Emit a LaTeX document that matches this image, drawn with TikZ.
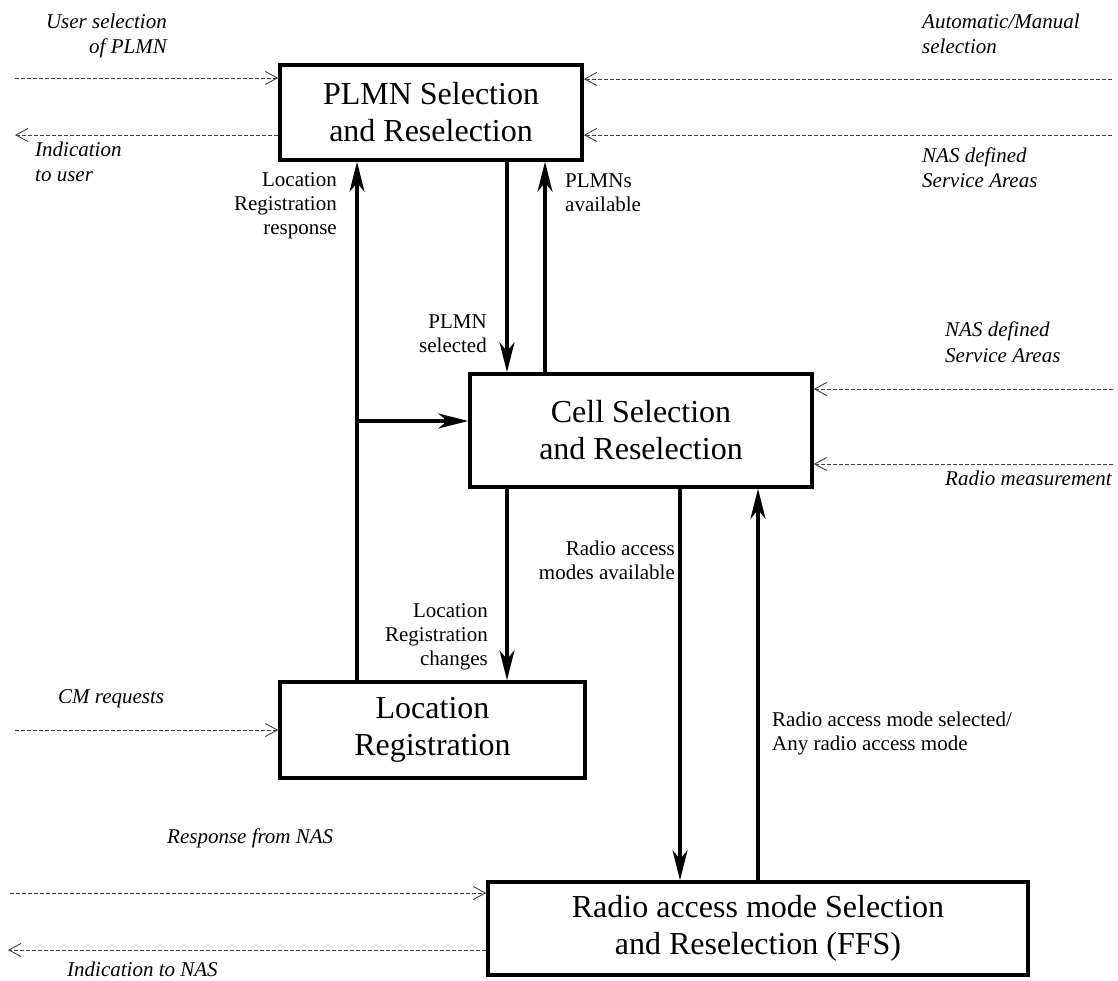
\documentclass[tikz,border=0pt]{standalone}
\usepackage{fontspec}
\setmainfont{Liberation Serif}
\usetikzlibrary{arrows.meta}
\begin{document}
\begin{tikzpicture}[x=1pt,y=-1pt,
  box/.style={draw, line width=3.5pt, inner sep=0pt, align=center, font=\fontsize{32}{37}\selectfont},
  arr/.style={line width=3.5pt, -{Stealth[length=30pt,width=15pt,inset=9pt]}},
  dsh/.style={line width=0.9pt, draw=black!75, dash pattern=on 4pt off 2pt, -{Straight Barb[length=12pt,width=13pt,line width=0.9pt]}},
  lab/.style={inner sep=0pt, font=\fontsize{21}{24}\selectfont},
  ilab/.style={inner sep=0pt, font=\fontsize{21}{25}\selectfont\itshape}]
\useasboundingbox (0,0) rectangle (1118,981);

% boxes
\node[box, minimum width=302pt, minimum height=95pt] (plmn) at (431,112.5) {PLMN Selection\\and Reselection};
\node[box, minimum width=342pt, minimum height=113pt] (cell) at (641,430.5) {Cell Selection\\and Reselection};
\node[box, minimum width=305pt, minimum height=96pt] (loc) at (432.5,730) {Location\\Registration};
\node[box, minimum width=540pt, minimum height=93pt] (radio) at (758,928.5) {Radio access mode Selection\\and Reselection (FFS)};

% x positions
\coordinate (xa) at (357,0);
\coordinate (xb) at (507,0);
\coordinate (xc) at (545,0);
\coordinate (xd) at (680,0);
\coordinate (xe) at (758,0);
\coordinate (junc) at (357,421);

% solid connectors
\draw[arr] (loc.north -| xa) -- (plmn.south -| xa);
\draw[arr] (junc) -- (cell.west |- junc);
\draw[arr] (plmn.south -| xb) -- (cell.north -| xb);
\draw[arr] (cell.north -| xc) -- (plmn.south -| xc);
\draw[arr] (cell.south -| xb) -- (loc.north -| xb);
\draw[arr] (cell.south -| xd) -- (radio.north -| xd);
\draw[arr] (radio.north -| xe) -- (cell.south -| xe);

% dashed external coordinates
\coordinate (l1) at (15,78);
\coordinate (l2) at (15,135);
\coordinate (r1) at (1112,79);
\coordinate (r2) at (1112,135);
\coordinate (r3) at (1113,389);
\coordinate (r4) at (1113,464);
\coordinate (l3) at (15,730);
\coordinate (l4) at (10,893);
\coordinate (l5) at (8,950);

\draw[dsh] (l1) -- (plmn.west |- l1);
\draw[dsh] (plmn.west |- l2) -- (l2);
\draw[dsh] (r1) -- (plmn.east |- r1);
\draw[dsh] (r2) -- (plmn.east |- r2);
\draw[dsh] (r3) -- (cell.east |- r3);
\draw[dsh] (r4) -- (cell.east |- r4);
\draw[dsh] (l3) -- (loc.west |- l3);
\draw[dsh] (l4) -- (radio.west |- l4);
\draw[dsh] (radio.west |- l5) -- (l5);

% italic labels (anchor at baseline of last line)
\node[ilab, anchor=base east, align=right] (t1) at (167,54) {User selection\\of PLMN};
\node[ilab, anchor=base west, align=left] (t2) at (35,182) {Indication\\to user};
\node[ilab, anchor=base west, align=left] (t3) at (922,54) {Automatic/Manual\\selection};
\node[ilab, anchor=base west, align=left] (t4) at (922,188) {NAS defined\\Service Areas};
\node[ilab, anchor=base west, align=left] (t5) at (945,362) {NAS defined\\Service Areas};
\node[ilab, anchor=base west] (t6) at (945,485) {Radio measurement};
\node[ilab, anchor=base west] (t7) at (58,703) {CM requests};
\node[ilab, anchor=base west] (t8) at (167,843) {Response from NAS};
\node[ilab, anchor=base west] (t9) at (67,976) {Indication to NAS};

% upright labels (anchor at baseline of last line)
\node[lab, anchor=base east, align=right] (u1) at (337,235) {Location\\Registration\\response};
\node[lab, anchor=base west, align=left] (u2) at (565,212) {PLMNs\\available};
\node[lab, anchor=base east, align=right] (u3) at (487,352) {PLMN\\selected};
\node[lab, anchor=base east, align=right] (u4) at (675,579) {Radio access\\modes available};
\node[lab, anchor=base east, align=right] (u5) at (488,665) {Location\\Registration\\changes};
\node[lab, anchor=base west, align=left] (u6) at (772,750) {Radio access mode selected/\\Any radio access mode};
\end{tikzpicture}
\end{document}
